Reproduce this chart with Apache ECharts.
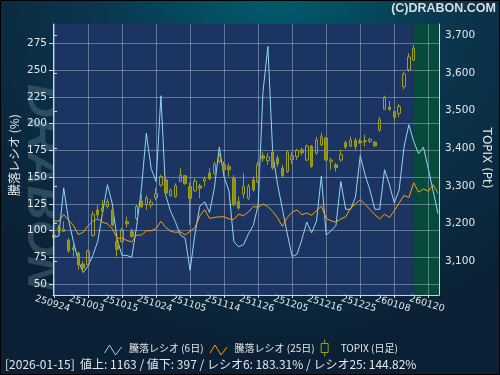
<!DOCTYPE html>
<html><head><meta charset="utf-8">
<script src="https://cdn.jsdelivr.net/npm/echarts@6/dist/echarts.min.js"></script>
<style>html,body{margin:0;padding:0;background:#0b2236;}#c{width:500px;height:375px;}</style>
</head><body><div id="c"></div>
<script>
// ---- data ----
const dates = ['250924','250925','250926','250929','250930','251001','251002','251003','251006','251007','251008','251009','251010','251014','251015','251016','251017','251020','251021','251022','251023','251024','251027','251028','251029','251030','251031','251104','251105','251106','251107','251110','251111','251112','251113','251114','251117','251118','251119','251120','251121','251125','251126','251127','251128','251201','251202','251203','251204','251205','251208','251209','251210','251211','251212','251215','251216','251217','251218','251219','251222','251223','251224','251225','251226','251229','251230','260105','260106','260107','260108','260109','260113','260114','260115','260116','260119','260120','260121','260122'];
const ratio6 = [94,95,140,110,90,72,61,67,77,90,117,143,125,92,77,77,75,104,140,191,158,146,226,133,118,108,96,93,63,97,123,127,117,140,178,150,137,90,85,87,97,105,124,230,272,172,143,120,97,76,78,92,108,98,109,151,96,100,105,146,120,120,131,170,152,138,120,120,157,143,126,138,178,199,183.31,172,178,158,137,116];
const ratio25 = [109,109,115,110,105,96.5,98.5,104.5,109,111,108,106.5,102,93,93,91,89.5,96,96,100,100,102,108.7,103,99.5,98.5,99,96,99.5,103,114,119.6,111.5,112.4,113,113,111,110.5,115.5,114,117.5,122.5,122,125,122.5,118,112,104,112.5,117.5,119.4,115,116.5,114.5,118.6,123,111.5,109.3,108,111,113,121,125,129,124.5,120,115,111,115.5,112.4,118.6,126,133,131,144.82,136,139,137,143,135];
// TOPIX daily: [open, close, low, high]
const topix = [
[3163,3169,3143,3178],[3185,3188,3175,3196],[3179,3185,3177,3205],[3156,3127,3122,3161],[3135,3130,3112,3148],
[3121,3090,3077,3125],[3092,3081,3071,3100],[3090,3127,3090,3130],[3168,3224,3165,3232],[3236,3223,3214,3248],
[3241,3232,3223,3262],[3245,3258,3240,3267],[3236,3196,3192,3241],[3152,3131,3112,3164],[3152,3183,3149,3188],
[3205,3199,3189,3218],[3178,3166,3161,3187],[3214,3245,3209,3249],[3260,3245,3241,3276],[3250,3268,3236,3275],
[3249,3257,3240,3265],[3269,3280,3262,3295],[3302,3325,3298,3330],[3316,3281,3280,3320],[3274,3289,3271,3293],
[3272,3301,3268,3307],[3312,3329,3310,3347],[3327,3306,3303,3329],[3298,3267,3196,3310],[3287,3313,3284,3320],
[3300,3294,3267,3305],[3313,3319,3298,3325],[3334,3319,3316,3347],[3334,3358,3329,3365],[3365,3378,3360,3385],
[3356,3343,3338,3365],[3351,3343,3325,3360],[3320,3250,3245,3329],[3258,3241,3236,3272],[3278,3298,3267,3334],
[3267,3298,3263,3305],[3316,3289,3285,3325],[3311,3356,3307,3365],[3380,3373,3364,3390],[3367,3377,3356,3388],
[3390,3348,3343,3395],[3374,3359,3350,3382],[3347,3327,3321,3356],[3338,3390,3335,3395],[3370,3380,3358,3390],
[3378,3394,3369,3399],[3396,3388,3382,3402],[3369,3406,3366,3410],[3406,3352,3348,3409],[3387,3422,3383,3430],
[3409,3431,3406,3441],[3427,3369,3366,3430],[3364,3369,3343,3375],[3356,3349,3338,3361],[3369,3383,3365,3396],
[3415,3403,3398,3420],[3406,3422,3403,3431],[3421,3405,3396,3428],[3419,3415,3412,3426],[3420,3418,3406,3436],
[3418,3424,3414,3428],[3416,3407,3404,3420],[3449,3476,3444,3484],[3504,3536,3502,3540],[3510,3504,3500,3526],
[3498,3483,3477,3500],[3493,3511,3483,3518],[3564,3598,3557,3604],[3609,3643,3604,3653],[3635,3666,3633,3675]
];
const leftTicks = [50,75,100,125,150,175,200,225,250,275];
const rightTicks = [3100,3200,3300,3400,3500,3600,3700];
const seriesNames = ['騰落レシオ (6日)','騰落レシオ (25日)','TOPIX (日足)'];
const lastDate = '2026-01-15';
const advances = 1163;
const declines = 397;
const lastRatio6 = 183.31;
const lastRatio25 = 144.82;

// ---- layout / style ----
const PL = 53, PT = 24, PW = 386, PH = 271;
const Y_LEFT_RANGE = [40, 293];
const Y_RIGHT_RANGE = [3009.5, 3731];
const X_PAD = 0.2;
const xMin = -X_PAD, xMax = dates.length - 1 + X_PAD;
const unit = PW / (xMax - xMin);
const AX = '#cfd6de', GRID = 'rgba(215,225,240,0.38)', TXT = '#e6e6e6';
const BLUE = '#8fd6f4', ORANGE = '#ffa200', OLIVE = '#a0a014', OLIVE_FILL = '#8e8e0c';

function span(range, hi, lo){
  const k = PH / (range[1] - range[0]);
  return {top: PT + (range[1] - hi) * k, height: (hi - lo) * k};
}
const lg = span(Y_LEFT_RANGE, leftTicks[leftTicks.length-1], leftTicks[0]);
const rg = span(Y_RIGHT_RANGE, rightTicks[rightTicks.length-1], rightTicks[0]);

const chart = echarts.init(document.getElementById('c'), null, {renderer:'canvas'});
const NUMF = 'DejaVu Sans';
const JPF = 'Noto Sans CJK JP';

const option = {
  animation: false,
  grid: [
    {left: PL, top: PT, width: PW, height: PH, show: true, backgroundColor: '#1b3461', borderWidth: 0, z: 0},
    {left: PL + X_PAD * unit, top: PT, width: (dates.length - 1) * unit, height: PH},
    {left: PL, top: lg.top, width: PW, height: lg.height},
    {left: PL, top: rg.top, width: PW, height: rg.height}
  ],
  xAxis: [
    {gridIndex: 0, type: 'value', min: xMin, max: xMax, z: 4,
     axisLine: {show: true, onZero: false, lineStyle: {color: AX, width: 1}},
     axisTick: {show: false}, axisLabel: {show: false}, splitLine: {show: false}},
    {gridIndex: 1, type: 'category', data: dates, boundaryGap: false, z: 2,
     axisLine: {show: false},
     axisTick: {show: true, interval: 6, length: 3, lineStyle: {color: AX}},
     axisLabel: {interval: 6, rotate: -17, align: 'center', verticalAlign: 'top', margin: 4,
                 color: TXT, fontSize: 9.5, fontFamily: NUMF},
     splitLine: {show: true, interval: 6, lineStyle: {color: GRID, width: 1}}},
    {gridIndex: 2, type: 'value', show: false},
    {gridIndex: 3, type: 'value', show: false}
  ],
  yAxis: [
    {gridIndex: 0, type: 'value', min: Y_LEFT_RANGE[0], max: Y_LEFT_RANGE[1], position: 'left', z: 4,
     axisLine: {show: true, onZero: false, lineStyle: {color: AX, width: 1}},
     axisTick: {show: false}, axisLabel: {show: false}, splitLine: {show: false}},
    {gridIndex: 0, type: 'value', min: Y_RIGHT_RANGE[0], max: Y_RIGHT_RANGE[1], position: 'right', z: 4,
     axisLine: {show: true, onZero: false, lineStyle: {color: AX, width: 1}},
     axisTick: {show: false}, axisLabel: {show: false}, splitLine: {show: false}},
    {gridIndex: 1, type: 'value', show: false},
    {gridIndex: 2, type: 'value', min: leftTicks[0], max: leftTicks[leftTicks.length-1],
     interval: leftTicks[1] - leftTicks[0], position: 'left', z: 2,
     axisLine: {show: false},
     axisTick: {show: true, length: 4, lineStyle: {color: AX}},
     axisLabel: {color: TXT, fontSize: 10.5, margin: 6, fontFamily: NUMF},
     splitLine: {show: true, lineStyle: {color: GRID, width: 1}}},
    {gridIndex: 3, type: 'value', min: rightTicks[0], max: rightTicks[rightTicks.length-1],
     interval: rightTicks[1] - rightTicks[0], position: 'right', z: 2,
     axisLine: {show: false},
     axisTick: {show: true, length: 4, lineStyle: {color: AX}},
     axisLabel: {color: TXT, fontSize: 10.5, margin: 6, fontFamily: NUMF,
                 formatter: v => v.toLocaleString('en-US')},
     splitLine: {show: false}}
  ],
  legend: {
    left: 99, top: 334, itemWidth: 22, itemHeight: 17, itemGap: 6,
    textStyle: {color: TXT, fontSize: 10, fontFamily: JPF},
    data: [
      {name: seriesNames[0], icon: 'path://M0,-3.5M0,13.5M0,10L5,2L11,12L17,4',
       itemStyle: {color: 'transparent', borderColor: BLUE, borderWidth: 1}},
      {name: seriesNames[1], icon: 'path://M0,-3.5M0,13.5M0,10L5,2L11,12L17,4',
       itemStyle: {color: 'transparent', borderColor: ORANGE, borderWidth: 1}},
      {name: seriesNames[2], icon: 'path://M4,0L4,4M0.5,4L7.5,4L7.5,13L0.5,13ZM4,13L4,17',
       itemStyle: {color: 'transparent', borderColor: OLIVE, borderWidth: 1}}
    ]
  },
  graphic: [
    {type: 'rect', z: -100, silent: true, shape: {x: 0, y: 0, width: 500, height: 375},
     style: {fill: new echarts.graphic.RadialGradient(0.55, -0.05, 1.0, [
       {offset: 0, color: '#005e6e'}, {offset: 0.45, color: '#0a3850'}, {offset: 1, color: '#0b2034'}])}},
    {type: 'text', z: -50, silent: true, x: 17, y: 84, rotation: -Math.PI / 2,
     style: {text: 'DRABON', font: 'italic bold 47px "Liberation Sans"', fill: 'rgba(110,150,165,0.33)',
             textAlign: 'left', textVerticalAlign: 'bottom'}},
    {type: 'text', z: 10, silent: true, x: 496, y: 9,
     style: {text: '(C)DRABON.COM', font: 'bold 12.5px "Liberation Sans"', fill: '#d8dde0',
             textAlign: 'right', textVerticalAlign: 'middle'}},
    {type: 'text', z: 10, silent: true, x: 14, y: 155, rotation: Math.PI / 2,
     style: {text: '騰落レシオ (%)', font: '12px "Noto Sans CJK JP"', fill: TXT,
             textAlign: 'center', textVerticalAlign: 'middle'}},
    {type: 'text', z: 10, silent: true, x: 486, y: 158, rotation: -Math.PI / 2,
     style: {text: 'TOPIX (Pt)', font: '12px "DejaVu Sans"', fill: TXT,
             textAlign: 'center', textVerticalAlign: 'middle'}},
    {type: 'text', z: 10, silent: true, x: 5, y: 364,
     style: {text: '[' + lastDate + ']  値上: ' + advances + ' / 値下: ' + declines +
                   ' / レシオ6: ' + lastRatio6.toFixed(2) + '% / レシオ25: ' + lastRatio25.toFixed(2) + '%',
             font: '12px "Noto Sans CJK JP"', fill: TXT, textAlign: 'left', textVerticalAlign: 'middle'}},
    {type: 'rect', z: 100, silent: true, shape: {x: 0, y: 0, width: 500, height: 375},
     style: {fill: 'none', stroke: '#000', lineWidth: 2}}
  ],
  series: [
    {type: 'custom', name: 'future', xAxisIndex: 0, yAxisIndex: 0, z: 1, silent: true,
     data: [[topix.length - 1, Y_LEFT_RANGE[0]]],
     renderItem: (params, api) => {
       const p = api.coord([api.value(0), api.value(1)]);
       const cs = params.coordSys;
       return {type: 'rect', shape: {x: p[0], y: cs.y, width: cs.x + cs.width - p[0], height: cs.height},
               style: {fill: '#074a3b'}};
     }},
    {type: 'candlestick', name: seriesNames[2], xAxisIndex: 0, yAxisIndex: 1, z: 3,
     barWidth: 3,
     data: topix.map((c, i) => [i, c[0], c[1], c[2], c[3]]),
     itemStyle: {color: 'transparent', color0: OLIVE_FILL, borderColor: OLIVE, borderColor0: OLIVE, borderWidth: 1}},
    {type: 'line', name: seriesNames[0], xAxisIndex: 0, yAxisIndex: 0, z: 3,
     showSymbol: false, symbol: 'none',
     data: ratio6.map((v, i) => [i, v]),
     lineStyle: {color: BLUE, width: 1}, itemStyle: {color: BLUE}},
    {type: 'line', name: seriesNames[1], xAxisIndex: 0, yAxisIndex: 0, z: 3,
     showSymbol: false, symbol: 'none',
     data: ratio25.map((v, i) => [i, v]),
     lineStyle: {color: ORANGE, width: 1}, itemStyle: {color: ORANGE}}
  ]
};
chart.setOption(option);
</script></body></html>
